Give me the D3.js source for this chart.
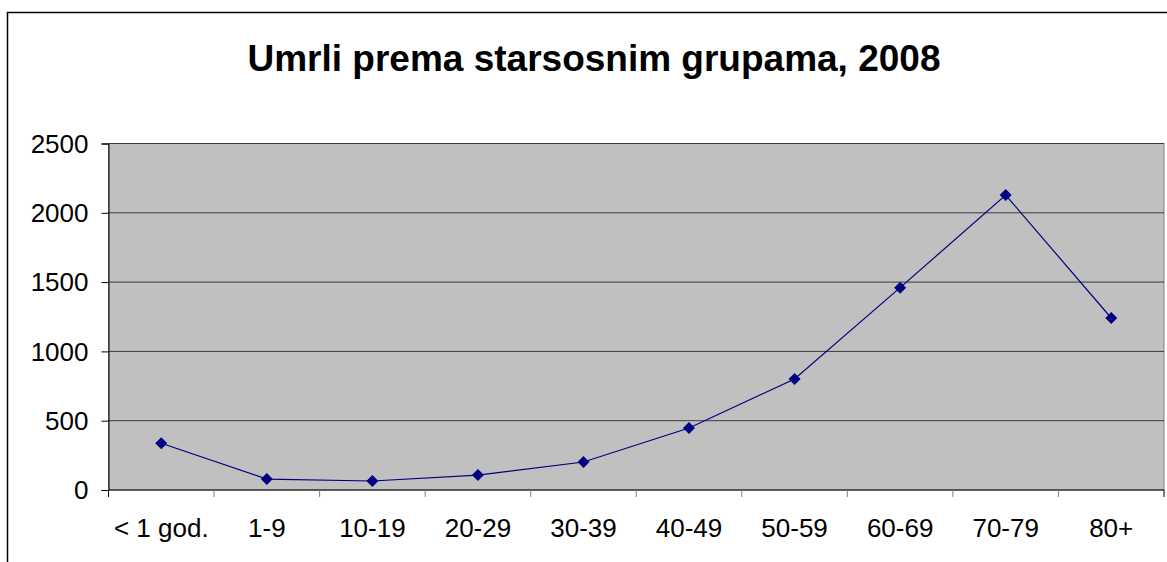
<!DOCTYPE html>
<meta charset="utf-8">
<body style="margin:0;background:#fff">
<script src="https://d3js.org/d3.v7.min.js"></script>
<script>

var width = 1167,
    height = 562;

// data
var groups = ["< 1 god.", "1-9", "10-19", "20-29", "30-39", "40-49", "50-59", "60-69", "70-79", "80+"];
var deaths = [337, 79, 65, 108, 202, 447, 801, 1460, 2128, 1241];
var yTicks = [0, 500, 1000, 1500, 2000, 2500];

var margin = {left: 108.5, top: 143.5, right: 1164, bottom: 490};
var font = "Arial, 'Liberation Sans', sans-serif";

var svg = d3.select("body").append("svg")
    .attr("width", width)
    .attr("height", height)
    .style("display", "block")
    .style("font-family", font);

// outer chart frame (runs off the page at right and bottom)
svg.append("rect")
    .attr("x", 7.5).attr("y", 12.5)
    .attr("width", 1200).attr("height", 600)
    .attr("fill", "#fff")
    .attr("stroke", "#000").attr("stroke-width", 1.5);

svg.append("text")
    .attr("x", 594).attr("y", 71)
    .attr("text-anchor", "middle")
    .style("font-size", "37px")
    .style("font-weight", "bold")
    .text("Umrli prema starsosnim grupama, 2008");

var x = d3.scaleBand()
    .domain(groups)
    .range([margin.left, margin.right]);

var y = d3.scaleLinear()
    .domain([0, 2500])
    .range([margin.bottom, margin.top]);

// plot area
svg.append("rect")
    .attr("x", margin.left).attr("y", margin.top)
    .attr("width", margin.right - margin.left)
    .attr("height", margin.bottom - margin.top)
    .attr("fill", "#c0c0c0")
    .attr("stroke", "#808080").attr("stroke-width", 1);

// gridlines
svg.append("g").selectAll("line")
    .data(yTicks.filter(function(d) { return d > 0; }))
  .enter().append("line")
    .attr("x1", margin.left).attr("x2", margin.right)
    .attr("y1", function(d) { return y(d); })
    .attr("y2", function(d) { return y(d); })
    .attr("stroke", "#3a3a3a").attr("stroke-width", 1);

// y axis
var yAxis = svg.append("g")
    .attr("transform", "translate(" + margin.left + ",0)")
    .call(d3.axisLeft(y).tickValues(yTicks).tickFormat(d3.format("d")).tickSize(7).tickPadding(13));
yAxis.select(".domain").attr("stroke", "#000");
yAxis.selectAll(".tick line").attr("stroke", "#000");
yAxis.selectAll("text")
    .attr("fill", "#000")
    .attr("dy", "0.34em")
    .style("font-size", "26px")
    .style("font-family", font);

// x axis: ticks between categories
var xAxis = svg.append("g")
    .attr("transform", "translate(0," + margin.bottom + ")");
xAxis.append("line")
    .attr("x1", margin.left).attr("x2", margin.right)
    .attr("stroke", "#000");
xAxis.selectAll(".sep")
    .data(groups.concat(["end"]))
  .enter().append("line")
    .attr("class", "sep")
    .attr("x1", function(d, i) { return margin.left + i * x.bandwidth(); })
    .attr("x2", function(d, i) { return margin.left + i * x.bandwidth(); })
    .attr("y1", 0).attr("y2", 7)
    .attr("stroke", function(d, i) { return i === 0 || i === groups.length ? "#000" : "#808080"; });
xAxis.selectAll("text")
    .data(groups)
  .enter().append("text")
    .attr("x", function(d) { return x(d) + x.bandwidth() / 2; })
    .attr("y", 47)
    .attr("text-anchor", "middle")
    .style("font-size", "26px")
    .text(function(d) { return d; });

// series
var line = d3.line()
    .x(function(d, i) { return x(groups[i]) + x.bandwidth() / 2; })
    .y(function(d) { return y(d); });

svg.append("path")
    .datum(deaths)
    .attr("d", line)
    .attr("fill", "none")
    .attr("stroke", "#000080")
    .attr("stroke-width", 1.2);

svg.append("g").selectAll("path")
    .data(deaths)
  .enter().append("path")
    .attr("transform", function(d, i) {
      return "translate(" + (x(groups[i]) + x.bandwidth() / 2) + "," + y(d) + ")";
    })
    .attr("d", "M0,-6L6,0L0,6L-6,0Z")
    .attr("fill", "#000080");

</script>
